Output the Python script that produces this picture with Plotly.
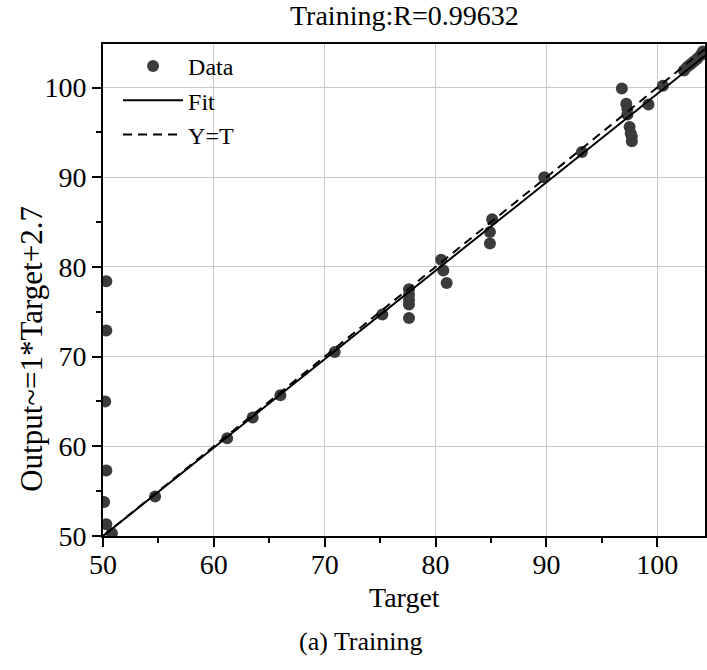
import plotly.graph_objects as go

# Training set: network targets vs. network outputs
targets = [50.3, 50.3, 50.2, 50.3, 50.1, 50.3, 50.8, 54.7, 61.2, 63.5, 66.0, 70.9,
           75.2, 77.6, 77.6, 77.6, 77.6, 77.6, 80.5, 80.7, 81.0, 84.9, 84.9, 85.1,
           89.8, 93.2, 96.8, 97.2, 97.3, 97.3, 97.5, 97.6, 97.7, 97.7, 99.2, 100.5,
           102.4, 102.7, 103.0, 103.3, 103.6, 103.9, 104.1]
outputs = [78.4, 72.9, 65.0, 57.3, 53.8, 51.3, 50.3, 54.4, 60.9, 63.2, 65.7, 70.5,
           74.7, 77.5, 76.9, 76.3, 75.8, 74.3, 80.8, 79.6, 78.2, 82.6, 83.9, 85.3,
           90.0, 92.8, 99.9, 98.2, 97.6, 97.0, 95.6, 94.9, 94.5, 94.0, 98.1, 100.2,
           101.9, 102.3, 102.6, 102.9, 103.2, 103.6, 104.0]

# Linear fit of outputs on targets
fit_slope = 0.986
fit_intercept = 0.7

line_x = [50, 104.3]
fit_y = [fit_slope * v + fit_intercept for v in line_x]
ident_y = list(line_x)

x_ticks = [50, 60, 70, 80, 90, 100]
y_ticks = [50, 60, 70, 80, 90, 100]

SERIF = "Liberation Serif"

fig = go.Figure()
fig.add_trace(go.Scatter(
    x=targets, y=outputs, mode="markers", name="Data",
    marker=dict(color="#3b3b3b", size=12, line=dict(width=0)),
))
fig.add_trace(go.Scatter(
    x=line_x, y=fit_y, mode="lines", name="Fit",
    line=dict(color="black", width=2),
))
fig.add_trace(go.Scatter(
    x=line_x, y=ident_y, mode="lines", name="Y=T",
    line=dict(color="black", width=2, dash="9px,6px"),
))

axis_common = dict(
    showgrid=True, gridcolor="#c9c9c9", gridwidth=1,
    showline=True, linecolor="black", linewidth=2, mirror=True,
    ticks="outside", ticklen=9, tickwidth=2, tickcolor="black",
    tickfont=dict(family=SERIF, size=28, color="black"),
    zeroline=False,
    minor=dict(dtick=5, ticks="outside", ticklen=5, tickwidth=1.5,
               tickcolor="black", showgrid=False),
)

fig.update_xaxes(range=[50, 104.3], tickvals=x_ticks, ticklabelstandoff=-7,
                 **axis_common)
fig.update_yaxes(range=[50, 104.85], tickvals=y_ticks, **axis_common)

fig.update_layout(
    width=707, height=670,
    margin=dict(l=103, r=0, t=44, b=134),
    plot_bgcolor="white", paper_bgcolor="white",
    showlegend=True,
    legend=dict(
        x=0.025, y=1.0, xanchor="left", yanchor="top",
        bgcolor="rgba(0,0,0,0)", borderwidth=0,
        font=dict(family=SERIF, size=24, color="black"),
        itemwidth=60, tracegroupgap=0,
    ),
    annotations=[
        dict(text="Training:R=0.99632", xref="paper", yref="paper",
             x=0.5, y=1.057, showarrow=False, xanchor="center", yanchor="middle",
             font=dict(family=SERIF, size=28, color="black")),
        dict(text="Output~=1*Target+2.7", xref="paper", yref="paper",
             x=-0.12, y=0.38, showarrow=False, textangle=-90,
             xanchor="center", yanchor="middle",
             font=dict(family=SERIF, size=31, color="black")),
        dict(text="Target", xref="paper", yref="paper",
             x=0.5, y=-0.126, showarrow=False, xanchor="center", yanchor="middle",
             font=dict(family=SERIF, size=28, color="black")),
        dict(text="(a) Training", xref="paper", yref="paper",
             x=(362 - 103) / 604, y=-0.215, showarrow=False,
             xanchor="center", yanchor="middle",
             font=dict(family=SERIF, size=26, color="black")),
    ],
)

fig.write_html("out.html")
